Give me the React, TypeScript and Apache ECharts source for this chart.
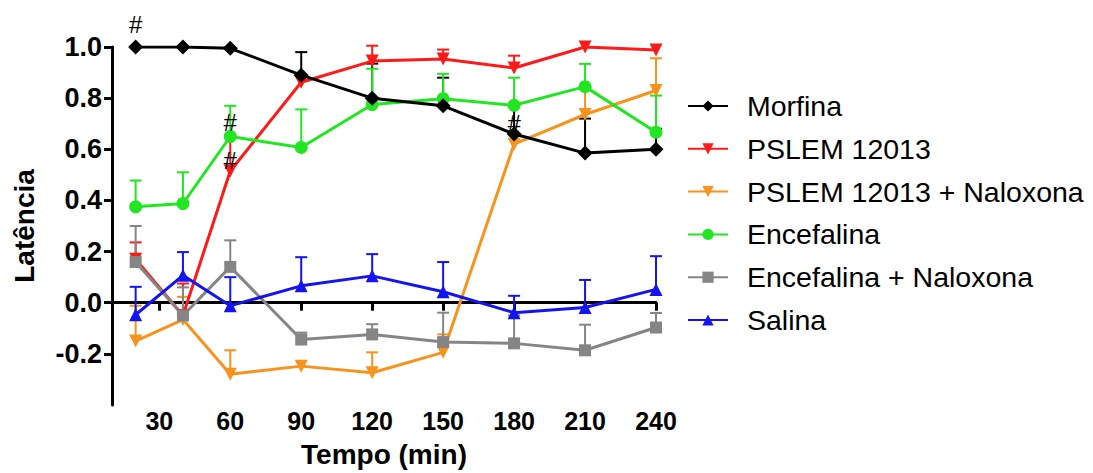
import React, { useEffect, useRef } from "react";
import * as echarts from "echarts";

const times = [20, 40, 60, 90, 120, 150, 180, 210, 240];
const xTicks = [30, 60, 90, 120, 150, 180, 210, 240];
const yTicks = [-0.2, 0, 0.2, 0.4, 0.6, 0.8, 1.0];

const seriesNames = [
  "Morfina",
  "PSLEM 12013",
  "PSLEM 12013 + Naloxona",
  "Encefalina",
  "Encefalina + Naloxona",
  "Salina",
];

const morfina = [1.0, 1.0, 0.995, 0.89, 0.8, 0.77, 0.66, 0.585, 0.6];
const morfinaErr = [null, null, null, 0.98, 0.935, 0.88, 0.773, 0.72, 0.68];

const pslem = [0.17, -0.05, 0.515, 0.862, 0.945, 0.953, 0.918, 1.0, 0.988];
const pslemErr = [0.236, 0.075, 0.656, null, 1.005, 0.99, 0.966, null, null];

const pslemNal = [-0.15, -0.066, -0.28, -0.248, -0.274, -0.194, 0.62, 0.736, 0.83];
const pslemNalErr = [-0.012, 0.023, -0.186, null, -0.194, -0.124, null, 0.85, 0.956];

const encef = [0.375, 0.388, 0.65, 0.607, 0.775, 0.798, 0.772, 0.845, 0.667];
const encefErr = [0.478, 0.51, 0.77, 0.756, 0.915, 0.895, 0.88, 0.934, 0.81];

const encefNal = [0.159, -0.05, 0.14, -0.144, -0.124, -0.154, -0.159, -0.186, -0.097];
const encefNalErr = [0.3, 0.06, 0.244, -0.117, -0.084, -0.039, -0.05, -0.086, -0.04];

const salina = [-0.047, 0.107, -0.012, 0.066, 0.105, 0.043, -0.039, -0.019, 0.052];
const salinaErr = [0.062, 0.198, 0.1, 0.178, 0.19, 0.159, 0.027, 0.089, 0.182];

// "#" significance marks: [series, time]
const hashMarks: [string, number][] = [
  ["Morfina", 20],
  ["Morfina", 180],
  ["Encefalina", 60],
  ["PSLEM 12013", 60],
];

const FONT = "'Liberation Sans', Arial, sans-serif";

export default function App() {
  const ref = useRef<HTMLDivElement>(null);

  useEffect(() => {
    if (!ref.current) return;
    const chart = echarts.init(ref.current, undefined, { renderer: "svg" });

    const values = [morfina, pslem, pslemNal, encef, encefNal, salina];
    const errs = [morfinaErr, pslemErr, pslemNalErr, encefErr, encefNalErr, salinaErr];
    const colors = ["#000000", "#ff1a1a", "#f7931e", "#22e622", "#858585", "#1414f0"];
    const symbols = ["diamond", "triangle", "triangle", "circle", "rect", "triangle"];
    const symbolSizes = [15, 13, 13, 13, 12, 13];
    const symbolRot = [0, 180, 180, 0, 0, 0];
    const hashOffset: Record<string, number> = {
      Morfina: -23,
      "PSLEM 12013": -11,
      Encefalina: -14,
    };
    const hashOffsetAt180 = -10;

    const lineSeries = seriesNames.map((name, i) => {
      const marks = hashMarks
        .filter((m) => m[0] === name)
        .map((m) => {
          const idx = times.indexOf(m[1]);
          const dy = name === "Morfina" && m[1] === 180 ? hashOffsetAt180 : hashOffset[name];
          return {
            coord: [m[1], values[i][idx]],
            label: { offset: [0, dy] },
          };
        });
      return {
        name,
        type: "line",
        xAxisIndex: 0,
        yAxisIndex: 0,
        data: times.map((t, k) => [t, values[i][k]]),
        symbol: symbols[i],
        symbolSize: symbolSizes[i],
        symbolRotate: symbolRot[i],
        color: colors[i],
        lineStyle: { width: 3, color: colors[i] },
        itemStyle: { color: colors[i] },
        z: 3 + (i === 0 ? 6 : 0),
        markPoint: marks.length
          ? {
              symbol: "circle",
              symbolSize: 2,
              itemStyle: { color: "rgba(0,0,0,0)" },
              label: {
                show: true,
                position: "inside",
                formatter: "#",
                color: "#000",
                fontSize: 24,
                fontFamily: FONT,
              },
              data: marks,
            }
          : undefined,
      };
    });

    const errSeries = seriesNames.map((name, i) => ({
      name: name + " err",
      type: "custom",
      xAxisIndex: 0,
      yAxisIndex: 0,
      z: 2,
      encode: { x: 0, y: [1, 2] },
      data: times
        .map((t, k) => [t, values[i][k], errs[i][k]])
        .filter((d) => d[2] !== null),
      renderItem: (params: any, api: any) => {
        const x = api.value(0);
        const lo = api.value(1);
        const hi = api.value(2);
        const p0 = api.coord([x, lo]);
        const p1 = api.coord([x, hi]);
        const stroke = colors[i];
        return {
          type: "group",
          children: [
            {
              type: "line",
              shape: { x1: p0[0], y1: p0[1], x2: p1[0], y2: p1[1] },
              style: { stroke, lineWidth: 2 },
            },
            {
              type: "line",
              shape: { x1: p1[0] - 6, y1: p1[1], x2: p1[0] + 6, y2: p1[1] },
              style: { stroke, lineWidth: 2 },
            },
          ],
        };
      },
    }));

    const option: any = {
      animation: false,
      backgroundColor: "#ffffff",
      grid: { left: 112, right: 437, top: 47, bottom: 63, containLabel: false },
      legend: {
        data: seriesNames,
        orient: "vertical",
        left: 682,
        top: 86,
        itemWidth: 40,
        itemHeight: 14,
        itemGap: 12.8,
        textStyle: {
          fontSize: 28.5,
          fontFamily: FONT,
          color: "#000",
          lineHeight: 30,
          padding: [0, 0, 0, 14],
        },
      },
      xAxis: [
        {
          type: "value",
          position: "bottom",
          min: 10,
          max: 240,
          axisLine: { show: true, onZero: true, lineStyle: { color: "#000", width: 3 } },
          axisTick: { show: true, customValues: xTicks, length: 8, lineStyle: { color: "#000", width: 3 } },
          axisLabel: { show: false },
          splitLine: { show: false },
        },
        {
          type: "value",
          position: "bottom",
          min: 10,
          max: 240,
          axisLine: { show: false, onZero: false },
          axisTick: { show: false },
          axisLabel: {
            show: true,
            customValues: xTicks,
            fontSize: 25,
            fontWeight: "bold",
            fontFamily: FONT,
            color: "#000",
            margin: 3,
          },
          splitLine: { show: false },
          name: "Tempo (min)",
          nameLocation: "middle",
          nameGap: 35,
          nameTextStyle: { fontSize: 28, fontWeight: "bold", fontFamily: FONT, color: "#000" },
        },
      ],
      yAxis: {
        type: "value",
        position: "left",
        min: -0.4,
        max: 1.0,
        interval: 0.2,
        axisLine: { show: true, onZero: false, lineStyle: { color: "#000", width: 3 } },
        axisTick: { show: true, customValues: yTicks, length: 8, lineStyle: { color: "#000", width: 3 } },
        axisLabel: {
          show: true,
          customValues: yTicks,
          formatter: (v: number) => v.toFixed(1),
          fontSize: 27,
          fontWeight: "bold",
          fontFamily: FONT,
          color: "#000",
          margin: 10,
        },
        splitLine: { show: false },
        name: "Latência",
        nameLocation: "middle",
        nameGap: 74,
        nameTextStyle: { fontSize: 28, fontWeight: "bold", fontFamily: FONT, color: "#000" },
      },
      series: [...errSeries, ...lineSeries],
    };

    chart.setOption(option);
    return () => chart.dispose();
  }, []);

  return (
    <div
      ref={ref}
      style={{ position: "fixed", left: 0, top: 0, width: 1093, height: 473, background: "#fff" }}
    />
  );
}
